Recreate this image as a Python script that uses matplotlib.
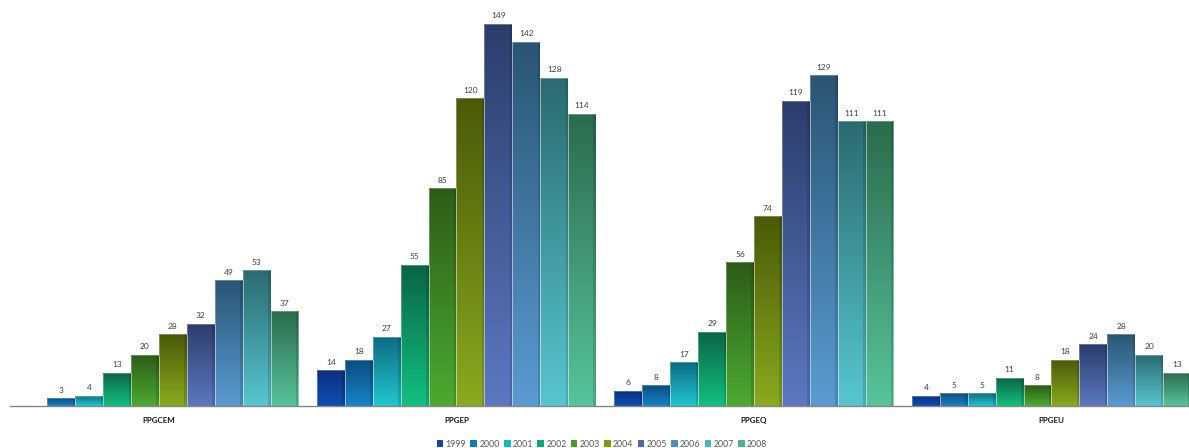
import numpy as np
import matplotlib
matplotlib.use("Agg")
import matplotlib.pyplot as plt
from matplotlib.colors import to_rgb
from matplotlib.patches import Patch

# Programs on the x axis and the years shown as series
programs = ["PPGCEM", "PPGEP", "PPGEQ", "PPGEU"]
years = ["1999", "2000", "2001", "2002", "2003", "2004", "2005", "2006", "2007", "2008"]

# Counts per program, one value per year (PPGCEM has no 1999 figure)
ppgcem = [np.nan, 3, 4, 13, 20, 28, 32, 49, 53, 37]
ppgep = [14, 18, 27, 55, 85, 120, 149, 142, 128, 114]
ppgeq = [6, 8, 17, 29, 56, 74, 119, 129, 111, 111]
ppgeu = [4, 5, 5, 11, 8, 18, 24, 28, 20, 13]

# Gradient colours for each year: (top, bottom)
top_colors = ["#0b2f7e", "#0b4c7e", "#0d6b82", "#0a6444", "#2c5c18", "#4a5a08",
              "#2c3d6b", "#2a5574", "#2a6b70", "#2b6b4e"]
bottom_colors = ["#0d4fb2", "#1784c8", "#21c7d0", "#12c081", "#4caa30", "#8aaa1f",
                 "#5b78c1", "#5a9bd2", "#57c6d0", "#57c49a"]
legend_colors = ["#1245a0", "#1679bd", "#1ab3c0", "#10a872", "#449a2c", "#7c9a18",
                 "#4e68ad", "#4f8cc2", "#4cb4bd", "#4cb088"]

data = np.array([ppgcem, ppgep, ppgeq, ppgeu], dtype=float)

fig = plt.figure(figsize=(11.89, 4.48), dpi=100)
plt.rcParams["font.family"] = ["Lato", "DejaVu Sans"]

px_w, px_h = 1189.0, 448.0
ymax = 155
ax = fig.add_axes([10.2 / px_w, 42 / px_h, 1190 / px_w, (ymax * 2.565) / px_h])
ax.set_xlim(-0.5, 3.5)
ax.set_ylim(0, ymax)

n_series = len(years)
bar_w = 27.9 / 297.5
group_x = np.arange(len(programs))


def gradient_image(top, bottom, n=128):
    t = np.linspace(0, 1, n)[:, None]
    c_top = np.array(to_rgb(top))
    c_bot = np.array(to_rgb(bottom))
    # row 0 is the bottom of the image with origin='lower'
    return (c_bot[None, :] * (1 - t) + c_top[None, :] * t)[:, None, :]


for j in range(n_series):
    xs = group_x + (j - (n_series - 1) / 2) * bar_w
    vals = data[:, j]
    ok = ~np.isnan(vals)
    bars = ax.bar(xs[ok], vals[ok], width=bar_w, facecolor="none",
                  edgecolor="none", zorder=1)
    grad = gradient_image(top_colors[j], bottom_colors[j])
    for bar, v in zip(bars, vals[ok]):
        x0 = bar.get_x()
        w = bar.get_width()
        h = bar.get_height()
        im = ax.imshow(grad, extent=(x0, x0 + w, 0, h), origin="lower",
                       aspect="auto", interpolation="bilinear", zorder=1)
        im.set_clip_path(bar)
        # darker strip along the right side of the bar
        ax.bar(x0 + w * 0.91, h, width=w * 0.09, align="edge",
               color="black", alpha=0.13, linewidth=0, zorder=1.1)
        # light rim
        ax.bar(x0, h, width=w, align="edge", facecolor="none",
               edgecolor="white", linewidth=0.6, alpha=0.35, zorder=1.2)
        ax.annotate(f"{int(v)}", (x0 + w / 2, h), xytext=(0, 3.2),
                    textcoords="offset points", ha="center", va="bottom",
                    fontsize=6, color="#404040")

for side in ("top", "right", "left"):
    ax.spines[side].set_visible(False)
ax.spines["bottom"].set_color("#868686")
ax.spines["bottom"].set_linewidth(1.0)
ax.spines["bottom"].set_zorder(3)
ax.set_yticks([])
ax.set_xticks(group_x)
ax.set_xticklabels(programs, fontsize=5.8, fontweight="bold", color="#1a1a1a")
ax.tick_params(axis="x", length=0, pad=8)

handles = [Patch(facecolor=c, edgecolor="none") for c in legend_colors]
fig.legend(handles, years, loc="center", bbox_to_anchor=(602 / px_w, 4.0 / px_h),
           ncol=n_series, frameon=False, fontsize=6.3, labelcolor="#595959",
           handlelength=0.75, handleheight=0.75, handletextpad=0.25,
           columnspacing=0.5, borderpad=0.0)

fig.savefig("out.png", dpi=100)
